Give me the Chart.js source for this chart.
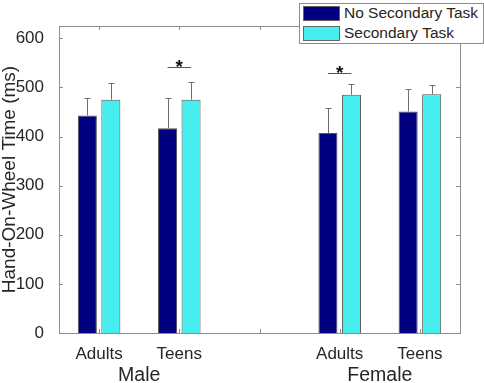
<!DOCTYPE html>
<html>
<head>
<meta charset="utf-8">
<script src="https://cdn.jsdelivr.net/npm/chart.js@4.4.1/dist/chart.umd.min.js"></script>
<style>
  body { margin: 0; background: #fff; }
  #wrap { position: relative; width: 484px; height: 383px; }
  #legend {
    position: absolute; left: 299px; top: 3px; width: 183px; height: 39px;
    border: 1px solid #8c8c8c; background: #fff;
    font-family: Arial, "Liberation Sans", sans-serif; font-size: 15.5px; color: #262626;
  }
  .row { position: absolute; left: 3px; height: 14px; display: flex; align-items: center; }
  .sw { width: 35px; height: 13px; border: 1px solid #666; margin-right: 4px; }
</style>
</head>
<body>
<div id="wrap">
  <canvas id="chart" width="484" height="383"></canvas>
  <div id="legend">
    <div class="row" style="top:2px"><span class="sw" style="background:#000080"></span>No Secondary Task</div>
    <div class="row" style="top:22px"><span class="sw" style="background:#46eeee"></span>Secondary Task</div>
  </div>
</div>
<script>
// data
const categories = ['Adults', 'Teens', '', 'Adults', 'Teens'];
const noTask = [443, 417, null, 407, 451];
const noTaskErr = [36, 62, null, 51, 45];
const withTask = [475, 475, null, 485, 486];
const withTaskErr = [34, 37, null, 22, 18];
const groupNames = ['Male', 'Female'];
const groupSpans = [[0, 1], [3, 4]];
const sigCategories = [1, 3];
const sigHeights = [541, 530];

const errors = [noTaskErr, withTaskErr];
const boxColor = '#8c8c8c';
const textColor = '#262626';
const fontFamily = 'Arial, "Liberation Sans", sans-serif';

// error bars, axis box, inward ticks, significance marks, group labels
const extras = {
  id: 'extras',
  afterDatasetsDraw(chart) {
    const ctx = chart.ctx;
    const area = chart.chartArea;
    const x = chart.scales.x;
    const y = chart.scales.y;
    ctx.save();

    // error bars (upper only)
    ctx.strokeStyle = '#6e6e6e';
    ctx.lineWidth = 1;
    errors.forEach((errs, d) => {
      const meta = chart.getDatasetMeta(d);
      const vals = chart.data.datasets[d].data;
      meta.data.forEach((bar, i) => {
        if (vals[i] == null) return;
        const bx = Math.round(bar.x) + 0.5;
        const top = Math.round(y.getPixelForValue(vals[i] + errs[i])) + 0.5;
        ctx.beginPath();
        ctx.moveTo(bx, bar.y);
        ctx.lineTo(bx, top);
        ctx.moveTo(bx - 3, top);
        ctx.lineTo(bx + 3, top);
        ctx.stroke();
      });
    });

    // box
    ctx.strokeStyle = boxColor;
    ctx.strokeRect(Math.round(area.left) + 0.5, Math.round(area.top) + 0.5,
      Math.round(area.right - area.left), Math.round(area.bottom - area.top));

    // inward ticks
    ctx.beginPath();
    y.ticks.forEach(t => {
      const py = Math.round(y.getPixelForValue(t.value)) + 0.5;
      ctx.moveTo(area.left, py); ctx.lineTo(area.left + 4, py);
      ctx.moveTo(area.right, py); ctx.lineTo(area.right - 4, py);
    });
    categories.forEach((c, i) => {
      const px = Math.round(x.getPixelForValue(i)) + 0.5;
      ctx.moveTo(px, area.bottom); ctx.lineTo(px, area.bottom - 4);
      ctx.moveTo(px, area.top); ctx.lineTo(px, area.top + 4);
    });
    ctx.stroke();

    // significance markers
    const m0 = chart.getDatasetMeta(0);
    const m1 = chart.getDatasetMeta(1);
    sigCategories.forEach((ci, k) => {
      const ly = Math.round(y.getPixelForValue(sigHeights[k])) + 0.5;
      const x0 = m0.data[ci].x;
      const x1 = m1.data[ci].x;
      ctx.strokeStyle = '#555';
      ctx.beginPath();
      ctx.moveTo(x0, ly);
      ctx.lineTo(x1, ly);
      ctx.stroke();
      ctx.fillStyle = '#111';
      ctx.font = 'bold 19px ' + fontFamily;
      ctx.textAlign = 'center';
      ctx.textBaseline = 'alphabetic';
      ctx.fillText('*', (x0 + x1) / 2, ly + 5);
    });

    // group labels under the category labels
    ctx.fillStyle = textColor;
    ctx.font = '19.5px ' + fontFamily;
    ctx.textAlign = 'center';
    ctx.textBaseline = 'middle';
    groupNames.forEach((g, k) => {
      const [a, b] = groupSpans[k];
      const cx = (x.getPixelForValue(a) + x.getPixelForValue(b)) / 2;
      ctx.fillText(g, cx, area.bottom + 43);
    });

    ctx.restore();
  }
};

new Chart(document.getElementById('chart'), {
  type: 'bar',
  data: {
    labels: categories,
    datasets: [
      {
        label: 'No Secondary Task',
        data: noTask,
        backgroundColor: '#000080',
        borderColor: '#555',
        borderWidth: 1,
      },
      {
        label: 'Secondary Task',
        data: withTask,
        backgroundColor: '#46eeee',
        borderColor: '#555',
        borderWidth: 1,
      },
    ],
  },
  options: {
    responsive: false,
    animation: false,
    layout: { padding: { top: 26, right: 24, left: 0, bottom: 0 } },
    plugins: { legend: { display: false }, tooltip: { enabled: false } },
    datasets: { bar: { categoryPercentage: 0.586, barPercentage: 0.81 } },
    scales: {
      x: {
        grid: { display: false },
        border: { display: false },
        ticks: {
          color: textColor,
          font: { family: fontFamily, size: 17 },
          padding: 3,
          maxRotation: 0,
          autoSkip: false,
        },
        afterFit(scale) { scale.height = 50; },
      },
      y: {
        min: 0,
        max: 625,
        grid: { display: false },
        border: { display: false },
        ticks: {
          stepSize: 100,
          includeBounds: false,
          color: textColor,
          font: { family: fontFamily, size: 17 },
          padding: 7,
        },
        title: {
          display: true,
          text: 'Hand-On-Wheel Time (ms)',
          color: textColor,
          font: { family: fontFamily, size: 19, lineHeight: 1.0 },
          padding: 0,
        },
        afterFit(scale) { scale.width = 59; },
      },
    },
  },
  plugins: [extras],
});
</script>
</body>
</html>
